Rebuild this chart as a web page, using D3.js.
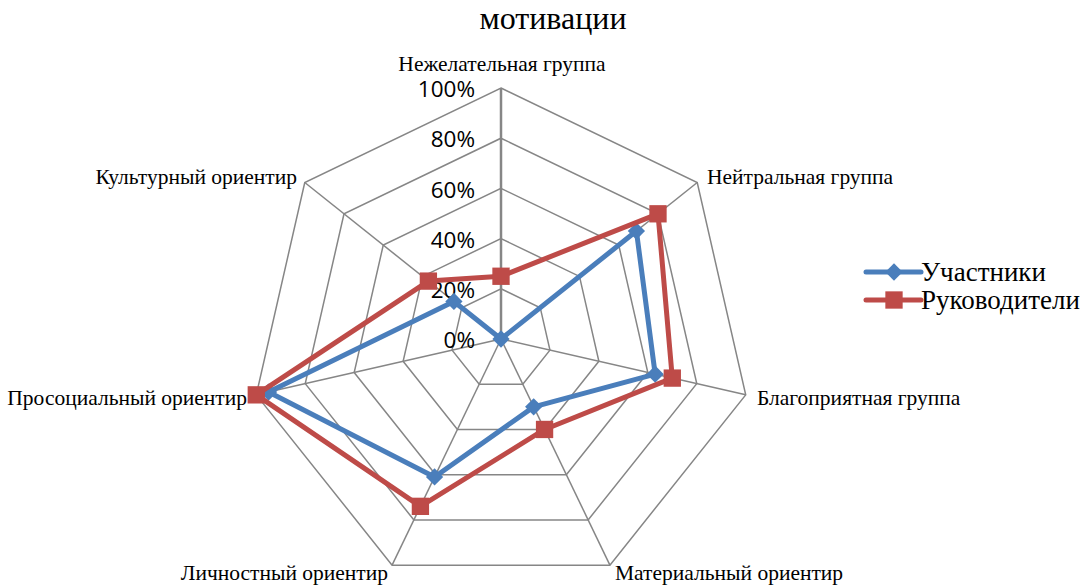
<!DOCTYPE html>
<html>
<head>
<meta charset="utf-8">
<script src="https://cdn.jsdelivr.net/npm/d3@7"></script>
<style>
  body { margin: 0; background: #fff; }
  svg { display: block; }
  .axis-label { font-family: "Liberation Serif", "Times New Roman", serif; font-size: 21.5px; fill: #000; }
  .tick-label { font-family: "Open Sans", "Liberation Sans", sans-serif; font-size: 22.5px; fill: #000; }
  .legend-label { font-family: "Liberation Serif", serif; font-size: 27px; fill: #000; }
  .title { font-family: "Liberation Serif", serif; font-size: 32px; fill: #000; }
</style>
</head>
<body>
<div id="chart"></div>
<script>
// categories and values (fractions of 100%)
var categories = [
  "Нежелательная группа",
  "Нейтральная группа",
  "Благоприятная группа",
  "Материальный ориентир",
  "Личностный ориентир",
  "Просоциальный ориентир",
  "Культурный ориентир"
];
var participants = [0.00, 0.69, 0.63, 0.30, 0.61, 0.95, 0.24];
var leaders      = [0.25, 0.80, 0.70, 0.40, 0.74, 1.00, 0.37];
var tickValues = [0, 0.2, 0.4, 0.6, 0.8, 1.0];
var seriesNames = ["Участники", "Руководители"];

var width = 1084, height = 585;
var cx = 501, cy = 339, R = 251;

var svg = d3.select("#chart").append("svg")
  .attr("width", width)
  .attr("height", height);

var r = d3.scaleLinear().domain([0, 1]).range([0, R]);
var angle = d3.scaleLinear().domain([0, categories.length]).range([0, 2 * Math.PI]);

function pt(i, v) {
  var a = angle(i);
  return [cx + r(v) * Math.sin(a), cy - r(v) * Math.cos(a)];
}

// title (first line cut off at top)
svg.append("text")
  .attr("class", "title")
  .attr("x", 553).attr("y", 29)
  .attr("text-anchor", "middle")
  .text("мотивации");

// grid polygons
var g = svg.append("g");
tickValues.slice(1).forEach(function(t) {
  g.append("polygon")
    .attr("points", categories.map(function(c, i) { return pt(i, t).join(","); }).join(" "))
    .attr("fill", "none")
    .attr("stroke", "#868686")
    .attr("stroke-width", 1.5);
});

// spokes
categories.forEach(function(c, i) {
  var p = pt(i, 1);
  g.append("line")
    .attr("x1", cx).attr("y1", cy)
    .attr("x2", p[0]).attr("y2", p[1])
    .attr("stroke", "#868686")
    .attr("stroke-width", i === 0 ? 2.5 : 1.5);
});

// tick labels
tickValues.forEach(function(t) {
  svg.append("text")
    .attr("class", "tick-label")
    .attr("x", cx - 26)
    .attr("y", cy - r(t) + 1)
    .attr("dy", "0.36em")
    .attr("text-anchor", "end")
    .text(d3.format(".0%")(t));
});

// category labels
var labelPos = [
  { x: 502, y: 71, anchor: "middle" },
  { x: 707, y: 184, anchor: "start" },
  { x: 757, y: 405, anchor: "start" },
  { x: 615, y: 580, anchor: "start" },
  { x: 388, y: 580, anchor: "end" },
  { x: 247, y: 405, anchor: "end" },
  { x: 297, y: 184, anchor: "end" }
];
categories.forEach(function(c, i) {
  svg.append("text")
    .attr("class", "axis-label")
    .attr("x", labelPos[i].x)
    .attr("y", labelPos[i].y)
    .attr("text-anchor", labelPos[i].anchor)
    .text(c);
});

var line = d3.lineRadial()
  .angle(function(d, i) { return angle(i); })
  .radius(function(d) { return r(d); })
  .curve(d3.curveLinearClosed);

var colors = ["#4a7ebb", "#be4b48"];
var seriesData = [participants, leaders];

var diamond = d3.symbol().type(d3.symbolDiamond2).size(190);
var square = d3.symbol().type(d3.symbolSquare).size(300);

seriesData.forEach(function(data, s) {
  var sg = svg.append("g").attr("transform", "translate(" + cx + "," + cy + ")");
  sg.append("path")
    .attr("d", line(data))
    .attr("fill", "none")
    .attr("stroke", colors[s])
    .attr("stroke-width", 5)
    .attr("stroke-linejoin", "round");
  data.forEach(function(v, i) {
    var p = pt(i, v);
    sg.append("path")
      .attr("d", s === 0 ? diamond() : square())
      .attr("transform", "translate(" + (p[0] - cx) + "," + (p[1] - cy) + ")")
      .attr("fill", colors[s]);
  });
});

// legend
var legend = svg.append("g").attr("transform", "translate(866,272)");
seriesNames.forEach(function(name, s) {
  var lg = legend.append("g").attr("transform", "translate(0," + (s * 28) + ")");
  lg.append("line")
    .attr("x1", 0).attr("x2", 55)
    .attr("stroke", colors[s])
    .attr("stroke-width", 5)
    .attr("stroke-linecap", "round");
  lg.append("path")
    .attr("d", s === 0 ? diamond() : square())
    .attr("transform", "translate(28,0)")
    .attr("fill", colors[s]);
  lg.append("text")
    .attr("class", "legend-label")
    .attr("x", 55)
    .attr("y", 0)
    .attr("dy", "0.35em")
    .text(name);
});
</script>
</body>
</html>
